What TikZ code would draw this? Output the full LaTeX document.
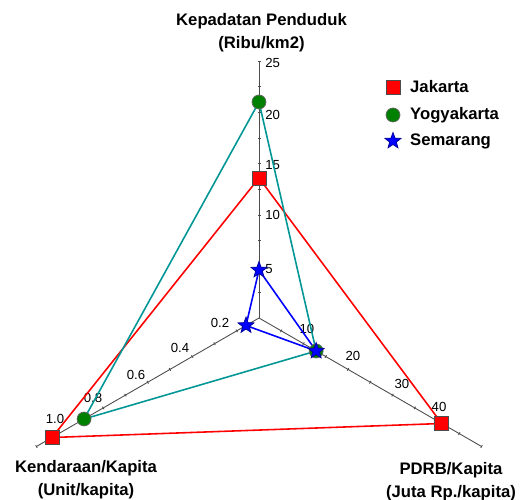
\documentclass[tikz,border=0pt]{standalone}
\usepackage{fontspec}
\setmainfont{Liberation Sans}
\usepackage{tikz}
\usetikzlibrary{positioning}
\usetikzlibrary{shapes.geometric}

\definecolor{yogteal}{RGB}{0,150,150}
\definecolor{yoggreen}{RGB}{0,128,0}

\begin{document}
\begin{tikzpicture}[x=0.02cm,y=0.02cm,
  axis line/.style={draw=black!70,line width=0.5pt},
  tick label/.style={font=\fontsize{7.5}{8}\selectfont,inner sep=0pt},
  axis title/.style={align=center,font=\fontsize{9.5}{13}\selectfont\bfseries},
  jak line/.style={draw=red,line width=0.9pt},
  yog line/.style={draw=yogteal,line width=0.9pt},
  sem line/.style={draw=blue,line width=0.9pt},
  jak mark/.style={rectangle,draw=black!70,fill=red,minimum size=0.28cm,inner sep=0pt},
  yog mark/.style={circle,draw=black!60,fill=yoggreen,minimum size=0.28cm,inner sep=0pt},
  sem mark/.style={star,star points=5,star point ratio=2.4,draw=blue!60!black,fill=blue,minimum size=0.34cm,inner sep=0pt},
  legend text/.style={anchor=west,inner sep=0pt,font=\fontsize{9.5}{11}\selectfont\bfseries}]

  \useasboundingbox (-259,-182) rectangle (265,318);

  % axes
  \coordinate (O) at (0,0);
  \coordinate (top end) at (90:257);
  \coordinate (left end) at (210:257);
  \coordinate (right end) at (-30:257);
  \draw[axis line] (O) -- (top end);
  \draw[axis line] (O) -- (left end);
  \draw[axis line] (O) -- (right end);
  \foreach \a in {90,210,-30}
    \foreach \i in {1,...,10}
      \draw[axis line,rotate=\a] (\i*25.7,-1.5) -- (\i*25.7,1.5);

  % tick labels
  \foreach \v/\r in {25/255,20/203,15/153,10/103,5/49}
    \node[tick label,anchor=west] (top\v) at (6,\r) {\v};
  \foreach \v/\x/\y in {10/48/-11,20/94/-38,30/143/-66,40/180/-89}
    \node[tick label] (right\v) at (\x,\y) {\v};
  \foreach \v/\x/\y in {0.2/-39/-5,0.4/-79/-30,0.6/-123/-57,0.8/-166/-80,1.0/-204/-101}
    \node[tick label] (left\v) at (\x,\y) {\v};

  % data
  \coordinate (J1) at (90:140);
  \coordinate (J2) at (-30:211);
  \coordinate (J3) at (210:239);
  \coordinate (Y1) at (90:216);
  \coordinate (Y2) at (-30:66);
  \coordinate (Y3) at (210:202);
  \coordinate (S1) at (90:48);
  \coordinate (S2) at (-30:66);
  \coordinate (S3) at (210:15);

  \draw[jak line] (J1) -- (J2) -- (J3) -- cycle;
  \draw[yog line] (Y1) -- (Y2) -- (Y3) -- cycle;
  \draw[sem line] (S1) -- (S2) -- (S3) -- cycle;

  \foreach \p in {J1,J2,J3}
    \node[jak mark] at (\p) {};
  \foreach \p in {Y1,Y2,Y3}
    \node[yog mark] at (\p) {};
  \foreach \p in {S1,S2,S3}
    \node[sem mark] at (\p) {};

  % axis titles
  \node[axis title] (top title) at (2.5,285) {Kepadatan Penduduk\\(Ribu/km2)};
  \node[axis title] (left title) at (-173,-162) {Kendaraan/Kapita\\(Unit/kapita)};
  \node[axis title] (right title) at (192,-164) {PDRB/Kapita\\(Juta Rp./kapita)};

  % legend
  \node[jak mark] (lj) at (134,231) {};
  \node[yog mark] (ly) at (134,203) {};
  \node[sem mark] (ls) at (134,177) {};
  \node[legend text,right=0.19cm of lj] (lj text) {Jakarta};
  \node[legend text,right=0.19cm of ly] (ly text) {Yogyakarta};
  \node[legend text] (ls text) at (ly text.west |- ls) {Semarang};

\end{tikzpicture}
\end{document}
